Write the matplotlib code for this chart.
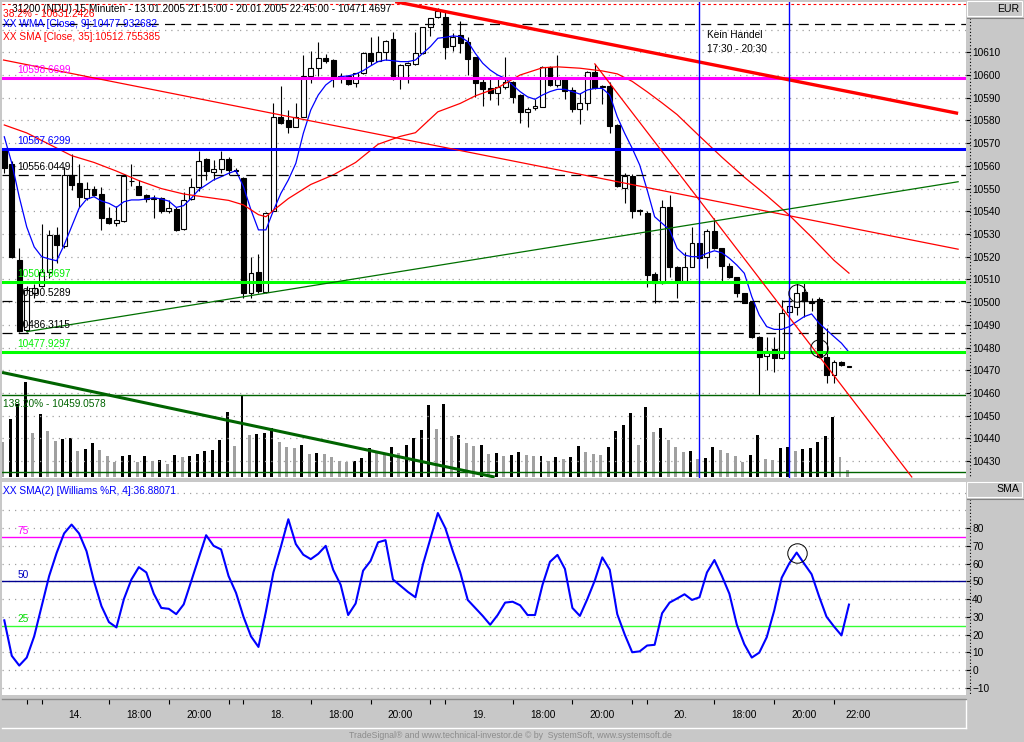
import matplotlib
matplotlib.use("Agg")
import matplotlib.pyplot as plt
import matplotlib.transforms as mtransforms
from matplotlib.lines import Line2D
from matplotlib.patches import Rectangle
import numpy as np
import pandas as pd

plt.rcParams["font.family"] = ["Liberation Sans", "DejaVu Sans"]
plt.rcParams["font.size"] = 7.3

# ---- data --------------------------------------------------------------------
sessions = [("13.01.2005", "21:15", 5), ("14.01.2005", "15:45", 27),
            ("18.01.2005", "15:45", 27), ("19.01.2005", "15:45", 27),
            ("20.01.2005", "15:45", 28)]

opens = [10567.0, 10561.0, 10518.5, 10487.7, 10504.0, 10507.1, 10513.4, 10529.6, 10524.7, 10556.0,
         10552.6, 10545.7, 10549.7, 10547.6, 10537.1, 10534.7, 10535.7, 10553.2, 10551.1, 10547.2,
         10546.0, 10545.7, 10540.3, 10540.9, 10532.1, 10545.3, 10550.8, 10562.9, 10557.4, 10558.5,
         10563.0, 10557.9, 10554.5, 10504.1, 10513.4, 10504.6, 10540.3, 10581.4, 10580.2, 10577.2,
         10581.6, 10599.6, 10602.9, 10607.4, 10606.6, 10599.6, 10599.6, 10596.3, 10600.7, 10609.8,
         10606.3, 10610.3, 10615.7, 10599.3, 10604.4, 10604.8, 10609.6, 10621.0, 10625.4, 10625.4,
         10612.8, 10617.6, 10614.7, 10607.8, 10597.0, 10594.3, 10592.2, 10594.6, 10596.9, 10591.2,
         10583.9, 10585.3, 10586.0, 10603.4, 10595.6, 10598.6, 10593.4, 10585.2, 10587.8, 10601.4,
         10594.8, 10595.2, 10578.0, 10550.1, 10555.5, 10540.3, 10539.4, 10512.4, 10508.3, 10541.7,
         10515.6, 10509.4, 10515.6, 10526.2, 10519.7, 10531.4, 10523.7, 10516.0, 10510.9, 10503.9,
         10500.2, 10484.8, 10476.3, 10479.2, 10475.3, 10495.8, 10497.7, 10504.3, 10500.5, 10501.2,
         10475.7, 10467.9, 10473.8, 10471.5]
highs = [10567.5, 10562.0, 10523.8, 10507.0, 10508.0, 10534.4, 10531.8, 10533.2, 10559.6, 10565.2,
         10560.8, 10553.0, 10551.1, 10550.8, 10542.0, 10542.3, 10556.0, 10560.8, 10553.8, 10547.6,
         10547.2, 10546.4, 10545.0, 10542.0, 10548.6, 10554.5, 10566.7, 10563.3, 10562.6, 10566.7,
         10564.0, 10559.0, 10555.0, 10520.0, 10521.2, 10539.8, 10587.5, 10595.2, 10584.6, 10587.5,
         10608.8, 10610.7, 10614.4, 10609.2, 10607.0, 10601.0, 10600.0, 10601.0, 10610.3, 10616.6,
         10617.2, 10615.5, 10619.1, 10605.0, 10605.9, 10619.1, 10621.3, 10625.3, 10629.4, 10627.7,
         10618.6, 10623.9, 10616.6, 10608.0, 10598.1, 10599.3, 10598.1, 10608.1, 10597.2, 10591.5,
         10585.8, 10589.6, 10604.0, 10604.0, 10608.8, 10599.3, 10594.6, 10591.9, 10601.9, 10604.9,
         10595.6, 10597.1, 10578.4, 10556.7, 10556.5, 10540.9, 10540.0, 10513.4, 10545.0, 10547.2,
         10516.0, 10522.2, 10533.2, 10530.3, 10532.0, 10536.9, 10524.0, 10517.1, 10511.2, 10504.2,
         10500.5, 10485.0, 10484.8, 10484.5, 10500.9, 10500.9, 10508.5, 10508.5, 10501.8, 10502.1,
         10488.5, 10474.5, 10474.0, 10471.5]
lows = [10556.9, 10519.5, 10487.0, 10487.0, 10502.0, 10506.5, 10510.6, 10517.2, 10524.0, 10549.4,
        10542.0, 10545.0, 10546.7, 10531.8, 10534.4, 10533.5, 10535.2, 10551.1, 10547.0, 10544.2,
        10536.9, 10539.1, 10539.1, 10531.5, 10531.8, 10545.0, 10549.1, 10553.8, 10553.8, 10556.7,
        10556.0, 10556.9, 10501.8, 10501.8, 10504.1, 10503.9, 10540.0, 10578.4, 10574.6, 10577.0,
        10581.3, 10596.6, 10599.6, 10605.2, 10594.6, 10596.6, 10595.5, 10594.6, 10600.5, 10604.3,
        10606.0, 10606.6, 10597.8, 10593.7, 10596.3, 10604.5, 10609.3, 10617.2, 10625.0, 10606.9,
        10610.7, 10609.6, 10600.0, 10590.4, 10586.4, 10589.0, 10586.8, 10593.7, 10587.8, 10578.7,
        10577.3, 10584.6, 10585.8, 10595.3, 10594.6, 10589.3, 10583.8, 10578.4, 10584.6, 10593.8,
        10587.2, 10574.3, 10550.8, 10543.8, 10536.9, 10538.4, 10506.8, 10499.7, 10508.0, 10511.2,
        10501.7, 10509.0, 10515.3, 10519.0, 10514.9, 10523.4, 10508.3, 10510.5, 10502.1, 10499.4,
        10484.0, 10459.1, 10470.1, 10469.4, 10475.0, 10495.5, 10494.3, 10493.6, 10496.0, 10475.5,
        10464.5, 10464.3, 10472.0, 10471.5]
closes = [10558.9, 10520.0, 10487.3, 10505.3, 10506.0, 10513.4, 10529.6, 10525.1, 10556.0, 10551.6,
          10546.1, 10549.7, 10547.2, 10537.1, 10535.0, 10536.2, 10555.5, 10553.4, 10547.2, 10545.4,
          10545.3, 10540.3, 10541.3, 10531.8, 10545.0, 10550.8, 10562.3, 10557.9, 10558.5, 10563.0,
          10558.2, 10558.0, 10503.9, 10513.0, 10505.0, 10539.4, 10581.6, 10579.0, 10577.2, 10581.6,
          10599.6, 10602.9, 10607.4, 10606.3, 10599.0, 10599.0, 10595.9, 10600.7, 10609.8, 10606.3,
          10610.3, 10615.1, 10599.0, 10604.4, 10605.2, 10609.6, 10621.0, 10625.0, 10628.3, 10612.5,
          10616.9, 10614.2, 10606.9, 10596.6, 10594.0, 10591.9, 10594.6, 10596.9, 10590.4, 10583.9,
          10585.0, 10586.4, 10603.4, 10595.6, 10598.1, 10593.1, 10585.2, 10587.5, 10601.4, 10594.1,
          10594.9, 10577.5, 10551.1, 10555.5, 10540.3, 10540.2, 10511.9, 10508.3, 10541.7, 10515.6,
          10509.4, 10515.6, 10526.2, 10519.3, 10531.4, 10523.7, 10516.0, 10510.9, 10503.9, 10499.7,
          10484.5, 10476.0, 10478.6, 10475.3, 10495.3, 10498.3, 10503.9, 10500.6, 10499.5, 10476.0,
          10467.9, 10473.8, 10472.3, 10471.5]

wma9 = [10572.8, 10561.2, 10546.3, 10533.1, 10524.3, 10520.0, 10519.0, 10518.2, 10525.1, 10533.2,
        10541.3, 10545.3, 10546.4, 10544.5, 10543.5, 10541.7, 10544.2, 10545.0, 10545.0, 10545.4,
        10546.0, 10545.4, 10544.5, 10541.7, 10542.5, 10545.7, 10549.4, 10551.6, 10553.8, 10555.2,
        10556.7, 10557.9, 10550.8, 10540.6, 10531.8, 10531.8, 10540.3, 10547.9, 10553.8, 10561.1,
        10574.3, 10584.6, 10591.2, 10595.6, 10598.1, 10599.3, 10599.6, 10600.4, 10601.9, 10604.0,
        10605.9, 10606.6, 10606.3, 10605.9, 10605.9, 10606.6, 10609.6, 10612.5, 10616.2, 10616.6,
        10617.2, 10616.9, 10614.7, 10609.6, 10605.2, 10602.2, 10600.0, 10598.6, 10595.6, 10592.7,
        10590.4, 10589.3, 10591.2, 10592.7, 10593.7, 10593.7, 10592.7, 10591.6, 10593.4, 10594.1,
        10594.1, 10591.2, 10581.6, 10574.3, 10567.7, 10560.4, 10549.4, 10537.6, 10534.7, 10531.8,
        10523.7, 10520.7, 10520.0, 10520.0, 10521.5, 10522.6, 10521.7, 10519.3, 10516.3, 10512.7,
        10502.4, 10494.3, 10489.2, 10488.0, 10488.0, 10489.2, 10491.4, 10493.6, 10494.8, 10490.7,
        10487.7, 10484.8, 10481.9, 10477.93]

sma35_bar = [0, 3, 6, 9, 12, 15, 18, 21, 24, 27, 30, 32, 34, 35, 36, 38, 41, 44, 47, 50, 53, 55,
             58, 61, 63, 66, 69, 72, 74, 77, 80, 82, 84, 86, 88, 90, 93, 96, 99, 102, 105, 108,
             111, 113]
sma35_val = [10578.0, 10574.5, 10569.5, 10564.5, 10561.5, 10557.7, 10553.5, 10550.0, 10547.6,
             10546.2, 10544.8, 10542.8, 10538.5, 10537.6, 10540.4, 10545.6, 10551.8, 10556.0,
             10561.5, 10569.5, 10573.0, 10574.6, 10583.8, 10587.5, 10590.8, 10594.4, 10600.0,
             10603.2, 10603.6, 10603.0, 10601.8, 10600.5, 10597.2, 10592.6, 10587.7, 10582.6,
             10573.1, 10563.8, 10555.0, 10546.9, 10538.3, 10528.6, 10518.4, 10512.76]

volume = [35, 57.7, 72.7, 95, 44, 63, 45.7, 35.7, 37.7, 38.7,
          26, 27.7, 34, 26.7, 20.7, 15, 20.7, 21.7, 15, 20.7,
          16, 16.5, 12.7, 21.7, 20, 20.7, 23, 26, 26.5, 36.7,
          65, 31, 80.7, 41.7, 43, 44, 48.3, 35, 30, 29,
          31.7, 23, 24, 22.7, 20, 15.3, 15, 16, 19, 28.3,
          25, 21.7, 30, 24, 31.7, 39, 46.7, 71.7, 48, 72.7,
          40.7, 41.7, 34, 30.7, 31.7, 22.7, 24, 20.7, 21.7, 24.7,
          21.7, 20.7, 21.2, 15.7, 19.7, 17.7, 19.7, 30.7, 25, 22.7,
          22.2, 29.7, 45.7, 51.7, 63.7, 31.7, 69.7, 44.7, 48.7, 36.7,
          29.7, 25, 25.7, 17.7, 18.7, 29.7, 26.7, 23.7, 20.7, 15,
          21.7, 41.7, 17.7, 16.7, 28.7, 29.7, 25.7, 27.7, 28.7, 34.7,
          40.7, 59.7, 19.7, 6.7]

williams_sma = [28, 8, 2.5, 7, 19, 36, 53, 66, 77, 82,
                77, 67, 50, 36, 27, 24, 40, 51, 58, 55,
                43, 35, 34.5, 31.5, 37, 50, 63, 76, 70, 68,
                53, 43.5, 30, 19, 13, 33, 55, 69.5, 85, 71,
                65, 62.5, 65.5, 70, 56.5, 48, 31, 37.5, 56, 61.5,
                72, 73.2, 51, 47.5, 44, 41, 59.5, 74, 88.5, 80,
                67, 55, 39.5, 35, 30.5, 25.5, 31, 38, 38.5, 36.5,
                31, 31, 48, 61, 64.9, 57, 35, 30.5, 40, 50.5,
                63.5, 56.5, 31.5, 20, 10, 10.5, 13.8, 14.2, 32, 38,
                40.3, 42.7, 39.5, 41, 55, 62, 53, 43, 25.5, 14.5,
                7, 9.8, 18.5, 33.5, 52, 60, 66.2, 60, 54, 41.5,
                30, 24.5, 19.5, 36.88071]

# horizontal levels drawn by the user
levels = [10598.6699, 10567.6299, 10556.0449, 10508.9697, 10500.5289, 10486.3115, 10477.9297]
level_kind = ["magenta", "blue", "dash", "green", "dash", "dash", "green"]
fib_top, fib_top_pct = 10631.2426, "38.2%"
fib_ext, fib_ext_pct = 10459.0578, "138.20%"
dash_top = 10622.3
fib_low = 10425.0

# trend lines: (bar, price) -> (bar, price)
red_thick = [(52.3, 10632.3), (127.6, 10583.1)]
red_thin = [[(-0.1, 10606.6), (127.6, 10523.3)], [(79.0, 10604.9), (121.4, 10423.0)]]
green_up = [(3.0, 10487.0), (127.6, 10553.0)]
green_down = [(-0.1, 10468.9), (65.4, 10423.1)]

no_trade = ["20.01.2005 17:30", "20.01.2005 20:30"]
circle_bars = [106, 109]
circle_prices = [10503.9, 10479.7]
osc_circle_bar = 106

# ---- derived --------------------------------------------------------------
times = []
for day, start, n in sessions:
    t0 = pd.to_datetime(f"{day} {start}", format="%d.%m.%Y %H:%M")
    times += list(pd.date_range(t0, periods=n, freq="15min"))
idx = np.arange(len(times))
o, h, l, c = map(np.array, (opens, highs, lows, closes))
vol = np.array(volume)

W, H = 1024, 742
SLOT_PX, X0_PX = 7.475, 4.3


def frac(x0, y0, x1, y1):
    return [x0 / W, 1 - y1 / H, (x1 - x0) / W, (y1 - y0) / H]


def ftext(px, py, s, **kw):
    fig.text(px / W, 1 - py / H, s, va="center", **kw)


fig = plt.figure(figsize=(W / 100, H / 100), dpi=100, facecolor="#c8c8c8")
xlim = ((2 - X0_PX) / SLOT_PX, (966 - X0_PX) / SLOT_PX)

# ---- price panel -------------------------------------------------------------
ax_vol = fig.add_axes(frac(2, 2, 966, 478))
ax = ax_vol.twinx()
ax.set_zorder(ax_vol.get_zorder() + 1)
ax.patch.set_visible(False)
ax_vol.set_facecolor("white")

vol_up = np.r_[False, vol[1:] > vol[:-1]]
ax_vol.bar(idx - 0.2, vol, width=0.4, color=np.where(vol_up, "black", "#a0a0a0"), lw=0)
ax_vol.set_ylim(-1.3, 474.7)
ax_vol.set_yticks([])

ax.hlines(np.arange(10430, 10621, 10), *xlim, colors="#a0a0a0", lw=0.9, linestyles=(0, (1, 4)), zorder=1)

up = c >= o
body_lo = np.minimum(o, c)
body_h = np.maximum(np.abs(c - o), 0.3)
ax.vlines(idx, l, h, color="black", lw=0.8, zorder=3)
ax.bar(idx[up], body_h[up], bottom=body_lo[up], width=0.66, facecolor="white",
       edgecolor="black", lw=0.8, zorder=3.5)
ax.bar(idx[~up], body_h[~up], bottom=body_lo[~up], width=0.66, facecolor="black",
       edgecolor="black", lw=0.8, zorder=3.5)

ax.plot(idx, wma9, color="#0000ff", lw=0.9, zorder=4)
ax.plot(sma35_bar, sma35_val, color="#ff0000", lw=0.9, zorder=4)

blend = mtransforms.blended_transform_factory(ax.transAxes, ax.transData)
kinds = {"magenta": ("#ff00ff", 2.2, "-", "#ff00ff"),
         "blue": ("#0000ff", 2.2, "-", "#0000ff"),
         "green": ("#00ff00", 2.2, "-", "#00ee00"),
         "dash": ("black", 0.9, (0, (8, 5)), "black")}
for v, k in zip(levels, level_kind):
    col, lw, ls, tcol = kinds[k]
    ax.axhline(v, color=col, lw=lw, ls=ls, zorder=5)
    ax.annotate(f"{v:.4f}", (0.016, v), xycoords=blend, xytext=(0, 3.5),
                textcoords="offset points", color=tcol, va="baseline", zorder=6)
ax.axhline(dash_top, color="black", lw=0.9, ls=(0, (8, 5)), zorder=5)
ax.axhline(fib_top, color="#ff0000", lw=0.8, ls=(0, (2.5, 2.5)), zorder=5)
ax.axhline(fib_ext, color="#006400", lw=1.0, zorder=5)
ax.axhline(fib_low, color="#006400", lw=1.0, zorder=5)
ax.annotate(f"{fib_ext_pct} - {fib_ext:.4f}", (0.001, fib_ext), xycoords=blend,
            xytext=(0, -2.5), textcoords="offset points", color="#006400", va="top", zorder=6)

(x0, y0), (x1, y1) = red_thick
ax.plot([x0, x1], [y0, y1], color="#ff0000", lw=2.4, solid_capstyle="butt", zorder=5)
for (x0, y0), (x1, y1) in red_thin:
    ax.plot([x0, x1], [y0, y1], color="#ff0000", lw=0.9, zorder=5)
(x0, y0), (x1, y1) = green_up
ax.plot([x0, x1], [y0, y1], color="#007000", lw=0.9, zorder=5)
(x0, y0), (x1, y1) = green_down
ax.plot([x0, x1], [y0, y1], color="#006400", lw=2.2, zorder=5)

t_index = pd.Index(times)
for s in no_trade:
    ax.axvline(t_index.get_loc(pd.to_datetime(s, format="%d.%m.%Y %H:%M")),
               color="#0000ff", lw=1.0, zorder=5)
nt0 = t_index.get_loc(pd.to_datetime(no_trade[0], format="%d.%m.%Y %H:%M"))
ax.text(nt0 + 1.0, 10614.5, "Kein Handel\n17:30 - 20:30", va="center", ha="left",
        linespacing=1.45, zorder=6)
ax.plot(circle_bars, circle_prices, "o", ms=12.5, mfc="none", mec="black", mew=0.7, zorder=6)

ax.set_xlim(*xlim)
ax.set_ylim(10422.55, 10632.15)
ax.set_yticks(np.arange(10430, 10611, 10))
ax.yaxis.tick_right()
ax.tick_params(axis="y", direction="out", length=3, width=0.8, pad=1.5, labelsize=7.3)
ax.set_xticks([])
ax_vol.set_xticks([])
for a in (ax, ax_vol):
    for sp in a.spines.values():
        sp.set_visible(False)

# ---- oscillator panel --------------------------------------------------------
ax_osc = fig.add_axes(frac(2, 482, 966, 695))
ax_osc.hlines(np.arange(-10, 101, 10), *xlim, colors="#a0a0a0", lw=0.9,
              linestyles=(0, (1, 4)), zorder=1)
osc_lines = [(75, "#ff00ff", "#ff00ff"), (50, "#000090", "#0000c0"), (25, "#33ff33", "#00dd00")]
oblend = mtransforms.blended_transform_factory(ax_osc.transAxes, ax_osc.transData)
for v, col, tcol in osc_lines:
    ax_osc.axhline(v, color=col, lw=1.0, zorder=2)
    ax_osc.annotate(str(v), (0.016, v), xycoords=oblend, xytext=(0, 2.5),
                    textcoords="offset points", color=tcol, va="baseline")
ax_osc.plot(idx, williams_sma, color="#0000ff", lw=1.5, zorder=3)
ax_osc.plot([osc_circle_bar], [williams_sma[osc_circle_bar]], "o", ms=14, mfc="none",
            mec="black", mew=0.7, zorder=4)
ax_osc.set_xlim(*xlim)
ax_osc.set_ylim(-14.1, 106.0)
ax_osc.set_yticks(np.arange(-10, 81, 10))
ax_osc.yaxis.tick_right()
ax_osc.tick_params(axis="y", direction="out", length=3, width=0.8, pad=1.5, labelsize=7.3)
ax_osc.set_xticks([])
for sp in ax_osc.spines.values():
    sp.set_visible(False)

# ---- time strip ---------------------------------------------------------------
ax_t = fig.add_axes(frac(2, 699, 966, 728))
ax_t.set_facecolor("#c8c8c8")
ax_t.set_xlim(*xlim)
ax_t.set_ylim(0, 1)
ax_t.set_yticks([])
tick_pos, tick_lab = [], []
for i, t in enumerate(times):
    if i > 0 and t.date() != times[i - 1].date():
        tick_pos.append(i)
        tick_lab.append(f"{t.day}.")
    elif t.minute == 0 and t.hour in (18, 20, 22):
        tick_pos.append(i)
        tick_lab.append(t.strftime("%H:%M"))
ax_t.vlines(tick_pos, 0.83, 1.0, color="black", lw=0.8)
ax_t.set_xticks([])
for k, (p, lab) in enumerate(zip(tick_pos, tick_lab)):
    nxt = tick_pos[k + 1] if k + 1 < len(tick_pos) else p + 6.4
    if nxt - p < 3:
        continue
    ax_t.text((p + nxt) / 2, 0.45, lab, ha="center", va="center")
for name, sp in ax_t.spines.items():
    sp.set_visible(name != "left")
    sp.set_color("white" if name in ("bottom", "right") else "#8c8c8c")
    sp.set_linewidth(1.0)

# ---- frame, headers and titles ------------------------------------------------
for y0p, y1p in ((18, 477), (499, 695)):
    fig.add_artist(Line2D([969.5 / W] * 2, [1 - y0p / H, 1 - y1p / H],
                          transform=fig.transFigure, color="black", lw=0.8, ls=(0, (1, 2))))
for y0p, lab in ((1, "EUR"), (482, "SMA")):
    fig.add_artist(Rectangle((967 / W, 1 - (y0p + 15) / H), 55 / W, 15 / H,
                             transform=fig.transFigure, facecolor="#c8c8c8",
                             edgecolor="white", lw=0.8))
    fig.add_artist(Line2D([967 / W, 1.0], [1 - (y0p + 16.5) / H] * 2,
                          transform=fig.transFigure, color="#808080", lw=0.8))
    ftext(1019, y0p + 7.5, lab, ha="right", fontsize=7.6)

# the red Fibonacci caption sits over the title line, as in the source chart
ftext(12, 9, "31200 (NDU) 15 Minuten - 13.01.2005 21:15:00 - 20.01.2005 22:45:00 - 10471.4697")
ftext(3, 14, f"{fib_top_pct} - {fib_top:.4f}", color="#ff0000")
ftext(3, 24, "XX WMA [Close, 9]:10477.932682", color="#0000ff")
ftext(3, 37, "XX SMA [Close, 35]:10512.755385", color="#ff0000")
ftext(3, 491.5, "XX SMA(2) [Williams %R, 4]:36.88071", color="#0000ff")
ftext(510, 736, "TradeSignal\u00ae and www.technical-investor.de \u00a9 by  SystemSoft, www.systemsoft.de",
      ha="center", color="#8c8c8c", fontsize=6.3)

fig.savefig("out.png", dpi=100, facecolor=fig.get_facecolor())
